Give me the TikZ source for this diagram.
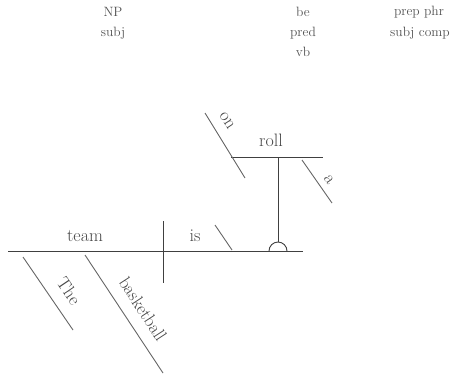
\documentclass[tikz,border=0pt]{standalone}
\begin{document}
\begin{tikzpicture}[x=1pt,y=-1pt,
  mainline/.style={draw=black!75, line width=1pt},
  modline/.style={draw=black!60, line width=0.9pt},
  word/.style={text=black!72, font=\fontsize{18}{20}\selectfont, inner sep=0pt},
  lab/.style={text=black!68, font=\fontsize{13.5}{15}\selectfont, inner sep=0pt}]
\useasboundingbox (0,0) rectangle (451,376);
% top labels
\node[lab] (np) at (113,12) {NP};
\node[lab] (subj) at (113,33) {subj};
\node[lab] (be) at (303,12) {be};
\node[lab] (pred) at (303,33) {pred};
\node[lab] (vb) at (303,52) {vb};
\node[lab] (pp) at (419,12) {prep phr};
\node[lab] (sc) at (420,33) {subj comp};
% baseline
\coordinate (bl) at (8,251);
\coordinate (br) at (303,251);
\draw[mainline] (bl) -- (br);
\coordinate (dt) at (163,221);
\coordinate (db) at (163,283);
\draw[mainline, line width=0.9pt] (dt) -- (db);
\node[word] (team) at (85,236) {team};
\node[word] (is) at (195,236) {is};
% subject complement divider
\coordinate (ist) at (215,225);
\coordinate (isb) at (232,250);
\draw[modline] (ist) -- (isb);
% pedestal
\coordinate (pt) at (278,157);
\coordinate (pb) at (278,242);
\draw[mainline, line width=0.9pt] (pt) -- (pb);
\draw[mainline, line width=0.9pt] (269,251) arc[start angle=180, end angle=360, radius=9];
% roll line
\coordinate (rl) at (231,157);
\coordinate (rr) at (323,157);
\draw[mainline] (rl) -- (rr);
\node[word] (roll) at (271,140) {roll};
% on
\coordinate (ont) at (205,113);
\coordinate (onb) at (245,178);
\draw[modline] (ont) -- (onb);
\node[word, rotate=-57] (on) at (227,121) {on};
% a
\coordinate (at) at (302,160);
\coordinate (ab) at (332,203);
\draw[modline] (at) -- (ab);
\node[word, rotate=-56] (a) at (329,180) {a};
% The
\coordinate (tht) at (23,257);
\coordinate (thb) at (73,330);
\draw[modline] (tht) -- (thb);
\node[word, rotate=-56] (the) at (69,291) {The};
% basketball
\coordinate (bbt) at (85,255);
\coordinate (bbb) at (163,373);
\draw[modline] (bbt) -- (bbb);
\node[word, rotate=-57] (bb) at (143,309) {basketball};
\end{tikzpicture}
\end{document}
